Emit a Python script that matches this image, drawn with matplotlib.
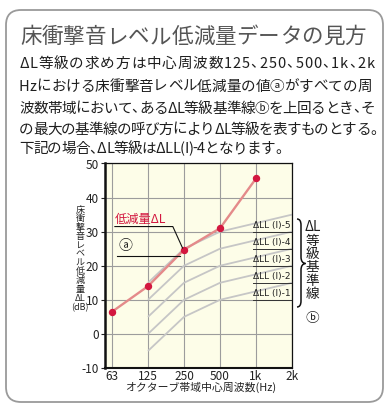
import matplotlib
matplotlib.use('Agg')
import matplotlib.pyplot as plt
from matplotlib.patches import FancyBboxPatch, PathPatch
from matplotlib.path import Path
from matplotlib.font_manager import FontProperties
from matplotlib.transforms import IdentityTransform

plt.rcParams['font.family'] = ['Noto Sans CJK JP', 'DejaVu Sans']

# ---------------- data ----------------
freq_labels = ['63', '125', '250', '500', '1k', '2k']
dl_values = [6.5, 14.0, 24.7, 31.0, 45.6]          # 63 .. 1k
std_names = ['ΔLL (I)-5', 'ΔLL (I)-4', 'ΔLL (I)-3', 'ΔLL (I)-2', 'ΔLL (I)-1']
std_m5 = [15, 25, 30, 32.5, 35]                     # 125 .. 2k
std_m4 = [10, 20, 25, 27.5, 30]
std_m3 = [5, 15, 20, 22.5, 25]
std_m2 = [0, 10, 15, 17.5, 20]
std_m1 = [-5, 5, 10, 12.5, 15]
std_curves = [std_m5, std_m4, std_m3, std_m2, std_m1]
yticks = [-10, 0, 10, 20, 30, 40, 50]

title = '床衝撃音レベル低減量データの見方'
body_lines = [
    'ΔL等級の求め方は中心周波数125、250、500、1k、2k',
    'Hzにおける床衝撃音レベル低減量の値ⓐがすべての周',
    '波数帯域において、あるΔL等級基準線ⓑを上回るとき、そ',
    'の最大の基準線の呼び方によりΔL等級を表すものとする。',
    '下記の場合、ΔL等級はΔLL(I)-4となります。',
]
ylabel_parts = ['床', '衝', '撃', '音', 'レ', 'ベ', 'ル', '低', '減', '量', 'ΔL', '(dB)']
brace_parts = ['ΔL', '等', '級', '基', '準', '線', 'ⓑ']
xlabel = 'オクターブ帯域中心周波数(Hz)'
dl_label = '低減量ΔL'
mark_a = 'ⓐ'

# ---------------- figure ----------------
W, H = 391, 411
fig = plt.figure(figsize=(W / 100, H / 100), dpi=100)
fig.patch.set_facecolor('white')
FAM = ['Noto Sans CJK JP', 'DejaVu Sans']


def fx(x):
    return x / W


def fy(y):
    return 1 - y / H


# rounded frame
box = FancyBboxPatch((6, H - 402), 377, 392,
                     boxstyle='round,pad=0,rounding_size=15',
                     transform=IdentityTransform(), facecolor='none',
                     edgecolor='#9a9a9a', linewidth=1.3)
fig.patches.append(box)

renderer = fig.canvas.get_renderer()


def draw_justified(line, x0, x1, yc, size, color):
    prop = FontProperties(family=FAM, size=size)
    ws = []
    for ch in line:
        w, h, d = renderer.get_text_width_height_descent(ch, prop, ismath=False)
        if ch in '、。':
            w *= 0.55
        ws.append(w)
    total = sum(ws)
    gap = (x1 - x0 - total) / (len(line) - 1)
    base = yc + 0.38 * size * 100 / 72
    x = x0
    for ch, w in zip(line, ws):
        fig.text(fx(x), fy(base), ch, fontproperties=prop, color=color,
                 ha='left', va='baseline')
        x += w + gap


draw_justified(title, 20, 366, 35, 15.5, '#555555')
body_targets = [(19, 375, 62), (19, 372, 85), (19, 375, 107), (19, 378, 128), (19, 283, 147.5)]
for line, (x0, x1, yc) in zip(body_lines, body_targets):
    draw_justified(line, x0, x1, yc, 10.5, '#1e1e1e')

# ---------------- axes ----------------
ax = fig.add_axes([fx(105), fy(368), fx(292) - fx(105), (368 - 163.5) / H])
ax.set_facecolor('#fdfde8')
xs = list(range(len(freq_labels)))
ax.set_xlim(-0.194, 5.0)
ax.set_ylim(-10, 50)
ax.set_xticks(xs)
ax.set_xticklabels(freq_labels)
ax.set_yticks(yticks)
ax.set_yticklabels([str(v) for v in yticks])
ax.tick_params(axis='x', length=0, pad=1.5, labelsize=8.5, colors='#222222')
ax.tick_params(axis='y', length=3, width=0.8, pad=1.5, labelsize=8.5, colors='#222222')
ax.grid(True, color='#9c9c9c', linewidth=0.8, zorder=1)
ax.set_axisbelow(True)
ax.spines['left'].set_linewidth(1.8)
ax.spines['bottom'].set_linewidth(1.5)
ax.spines['top'].set_linewidth(0.9)
ax.spines['right'].set_linewidth(0.9)
for s in ax.spines.values():
    s.set_color('#111111')

std_x = xs[1:]
for name, vals in zip(std_names, std_curves):
    ax.plot(std_x, vals, color='#c6c6c6', linewidth=1.3, zorder=2, solid_capstyle='butt')
    lvl = vals[2]
    ax.plot([3.92, 5.0], [lvl, lvl], color='#333333', linewidth=0.7, zorder=3)
    ax.text(4.97, lvl + 0.45, name, ha='right', va='bottom', fontsize=6.5,
            family='DejaVu Sans', color='#222222', zorder=4)

ax.plot(xs[:5], dl_values, color='#e48a8a', linewidth=1.7, zorder=5)
ax.plot(xs[:5], dl_values, 'o', markersize=4.3, color='#d3173f', zorder=6)

# annotation for ΔL
ax.text(0.08, 33.6, dl_label, color='#d3173f', fontsize=8.8, ha='left', va='center', zorder=7)
ax.plot([0.08, 1.69, 1.96], [31.5, 31.5, 25.2], color='#111111', linewidth=0.8, zorder=7)
ax.text(0.375, 25.8, mark_a, color='#222222', fontsize=10, ha='center', va='center', zorder=7)
ax.plot([0.14, 1.89], [23.0, 23.0], color='#111111', linewidth=0.8, zorder=7)

# y label (stacked vertical)
ylab_y = [210, 218.7, 227.6, 236.5, 245.4, 254.2, 263, 271.8, 280.4, 289, 298, 308]
for part, yy in zip(ylabel_parts, ylab_y):
    fig.text(fx(80), fy(yy), part, fontsize=6.5, ha='center', va='center', color='#222222')

# x label
fig.text(fx(201), fy(387.5), xlabel, fontsize=7.8, ha='center', va='center', color='#222222')

# brace
Hh = H
verts = [(297, Hh - 219), (301, Hh - 219), (301, Hh - 225),
         (301, Hh - 257),
         (301, Hh - 263), (305.5, Hh - 263.5),
         (301, Hh - 264), (301, Hh - 270),
         (301, Hh - 301),
         (301, Hh - 307), (297, Hh - 307)]
codes = [Path.MOVETO, Path.CURVE3, Path.CURVE3, Path.LINETO,
         Path.CURVE3, Path.CURVE3, Path.CURVE3, Path.CURVE3,
         Path.LINETO, Path.CURVE3, Path.CURVE3]
fig.patches.append(PathPatch(Path(verts, codes), transform=IdentityTransform(),
                             facecolor='none', edgecolor='#111111', linewidth=1.1))

brace_y = [227, 241, 254, 267, 280.5, 294, 318]
for part, yy in zip(brace_parts, brace_y):
    fig.text(fx(312.5), fy(yy), part, fontsize=9.8, ha='center', va='center', color='#1e1e1e')

fig.savefig('out.png', dpi=100, facecolor='white')
